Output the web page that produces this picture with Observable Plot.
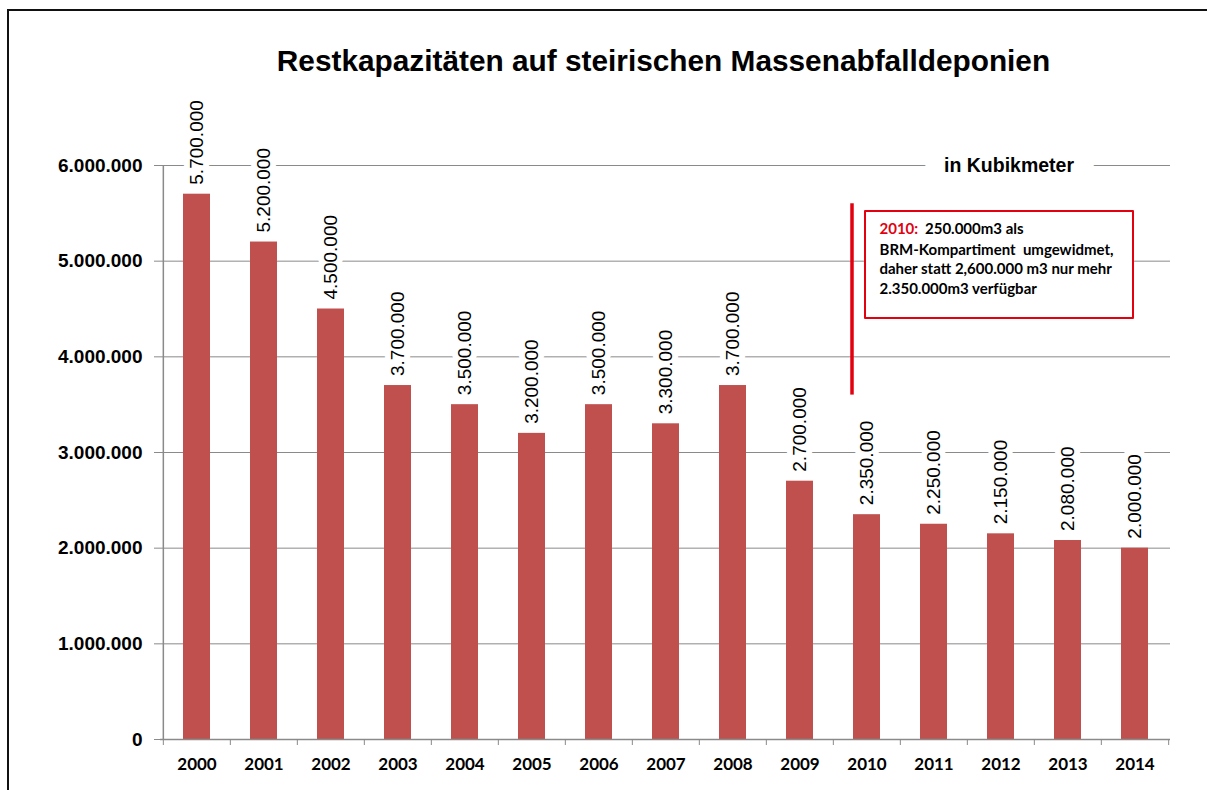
<!DOCTYPE html>
<html>
<head>
<meta charset="utf-8">
<script src="https://cdn.jsdelivr.net/npm/d3@7"></script>
<script src="https://cdn.jsdelivr.net/npm/@observablehq/plot@0.6"></script>
<style>
  html, body { margin: 0; padding: 0; background: #fff; overflow: hidden; }
  #wrap { position: relative; width: 1207px; height: 790px; overflow: hidden; background: #fff; }
  #border { position: absolute; left: 7px; top: 9px; width: 1400px; height: 1000px; border-left: 2px solid #111; border-top: 2px solid #111; pointer-events: none; }
  #title { height: 90px; box-sizing: border-box; padding-top: 46px; padding-left: 120px; text-align: center;
           font: bold 29.8px/29px "Liberation Sans", Arial, sans-serif; color: #000; }
  #chart svg { display: block; overflow: visible; }
</style>
</head>
<body>
<div id="wrap">
  <div id="title">Restkapazitäten auf steirischen Massenabfalldeponien</div>
  <div id="chart"></div>
  <div id="border"></div>
</div>
<script>
// ---- data ----
const years = ["2000","2001","2002","2003","2004","2005","2006","2007","2008","2009","2010","2011","2012","2013","2014"];
const values = [5700000, 5200000, 4500000, 3700000, 3500000, 3200000, 3500000, 3300000, 3700000, 2700000, 2350000, 2250000, 2150000, 2080000, 2000000];
const yTicks = [0, 1000000, 2000000, 3000000, 4000000, 5000000, 6000000];
const unitLabel = "in Kubikmeter";
const noteYear = "2010";
const noteHead = "2010:";
const noteFirst = "250.000m3 als";
const noteLines = ["BRM-Kompartiment  umgewidmet,", "daher statt 2,600.000 m3 nur mehr", "2.350.000m3 verfügbar"];

const data = years.map((year, i) => ({year, value: values[i]}));

const W = 1207, H = 700;
const mL = 160, mR = 37, mT = 75, mB = 51;
const step = (W - mL - mR) / years.length;

const locale = d3.formatLocale({decimal: ",", thousands: ".", grouping: [3], currency: ["", "€"]});
const fmt = locale.format(",");

const red = "#e3000f";
const grey = "#8a8a8a";

const chart = Plot.plot({
  width: W, height: H,
  marginLeft: mL, marginRight: mR, marginTop: mT, marginBottom: mB,
  style: {background: "#fff", color: "#000", fontFamily: "'Liberation Sans', Arial, sans-serif"},
  x: {type: "band", domain: years, paddingInner: 0.6, paddingOuter: 0.3, axis: null},
  y: {domain: [0, 6000000], axis: null},
  marks: [
    Plot.gridY(yTicks.slice(1), {stroke: grey, strokeOpacity: 1, strokeWidth: 1}),
    // "in Kubikmeter" label over top gridline
    Plot.text([unitLabel], {x: () => "2012", y: () => 6000000, text: d => d, dx: 8,
      fontSize: 19.5, fontWeight: "bold", fill: "#000", stroke: "#fff", strokeWidth: 40, strokeLinejoin: "round", lineAnchor: "middle"}),
    // bars
    Plot.barY(data, {x: "year", y: "value", fill: "#c0504d"}),
    // value labels
    Plot.text(data, {x: "year", y: "value", text: d => fmt(d.value), rotate: -90, textAnchor: "start", lineAnchor: "middle",
      dy: -9.5, fontSize: 19, fill: "#000", stroke: "#fff", strokeWidth: 12, strokeLinejoin: "round"}),
    // axis lines
    Plot.ruleY([0], {stroke: grey, strokeWidth: 1.5}),
    Plot.ruleX([years[0]], {x: d => d, y1: 0, y2: 6000000, dx: -step / 2, stroke: grey, strokeWidth: 1.5}),
    // y axis
    Plot.axisY(yTicks, {tickSize: 6, tickPadding: 12, tickFormat: fmt, stroke: grey, fontSize: 19, fontWeight: "bold"}),
    // x boundary ticks
    Plot.axisX(years, {tickSize: 6, tickFormat: () => "", dx: -step / 2, stroke: grey}),
    Plot.axisX([years[years.length - 1]], {tickSize: 6, tickFormat: () => "", dx: step / 2, stroke: grey}),
    // x labels
    Plot.axisX(years, {tickSize: 0, tickPadding: 18, fontSize: 17, fontWeight: "bold", fontFamily: "Lato, sans-serif"}),
    // annotation
    Plot.ruleX([noteYear], {x: d => d, y1: 3600000, y2: 5600000, dx: -15, stroke: red, strokeWidth: 3.5}),
    Plot.areaY([{x: noteYear, y1: 4400000, y2: 5520000}, {x: "2014", y1: 4400000, y2: 5520000}],
      {x: "x", y1: "y1", y2: "y2", fill: "#fff", stroke: red, strokeWidth: 2, dx: -1.5}),
    Plot.text([noteHead], {x: () => noteYear, y: () => 5330000, text: d => d, dx: 12.5, textAnchor: "start", lineAnchor: "middle",
      fontSize: 15, fontWeight: "bold", fill: red, fontFamily: "Lato, sans-serif"}),
    Plot.text([noteFirst], {x: () => noteYear, y: () => 5330000, text: d => d, dx: 58, textAnchor: "start", lineAnchor: "middle",
      fontSize: 15, fontWeight: "bold", fill: "#000", fontFamily: "Lato, sans-serif"}),
    Plot.text([noteLines.join("\n")], {x: () => noteYear, y: () => 4927000, text: d => d, dx: 12.5, textAnchor: "start", lineAnchor: "middle",
      lineHeight: 1.29, fontSize: 15, fontWeight: "bold", fill: "#000", fontFamily: "Lato, sans-serif"})
  ]
});
document.getElementById("chart").appendChild(chart);
</script>
</body>
</html>
